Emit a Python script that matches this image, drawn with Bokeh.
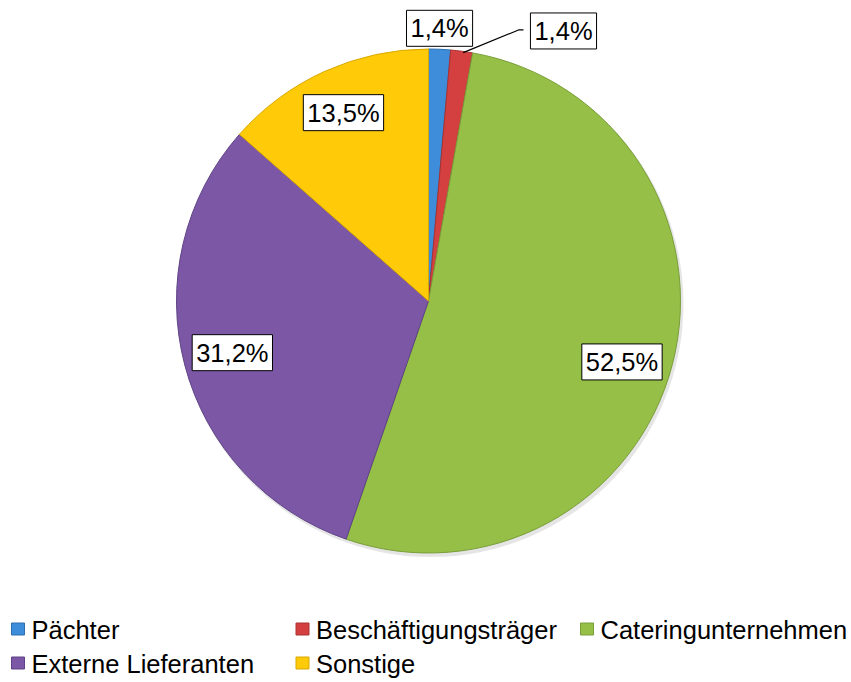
import math
from bokeh.plotting import figure
from bokeh.models import Range1d, Label
from bokeh.core.properties import value
from bokeh.embed import file_html
from bokeh.resources import INLINE

# ---- data ----
categories = ["Pächter", "Beschäftigungsträger", "Cateringunternehmen",
              "Externe Lieferanten", "Sonstige"]
shares = [1.4, 1.4, 52.5, 31.2, 13.5]
share_labels = ["1,4%", "1,4%", "52,5%", "31,2%", "13,5%"]

# ---- styles ----
colors = ["#3D8DDB", "#D4403F", "#95BF47", "#7B57A6", "#FFCA08"]
edges = ["#2F6FAE", "#A83232", "#7A9E3A", "#5F4385", "#D9A800"]
FONT = "Liberation Sans"
FS = "25.5px"

W, H = 851, 682
# page pixel coordinates -> data coordinates
def px(x):
    return x
def py(y):
    return H - y

cx, cy, R = 428, 300.5, 252

p = figure(width=W, height=H, output_backend="svg", toolbar_location=None,
           x_range=Range1d(0, W), y_range=Range1d(0, H),
           min_border=0, outline_line_color=None, background_fill_color="white",
           border_fill_color="white")
p.axis.visible = False
p.grid.visible = False

# soft shadow
p.circle(x=[px(cx + 2)], y=[py(cy + 3)], radius=R + 1, fill_color="#000000",
         fill_alpha=0.10, line_color=None)

total = sum(shares)
cum = 0.0
starts, ends, mids = [], [], []
for s in shares:
    a0 = math.pi / 2 - 2 * math.pi * cum / total
    cum += s
    a1 = math.pi / 2 - 2 * math.pi * cum / total
    starts.append(a0)
    ends.append(a1)
    mids.append((a0 + a1) / 2)

p.wedge(x=px(cx), y=py(cy), radius=R, start_angle=starts, end_angle=ends,
        direction="clock", fill_color=colors, line_color=edges, line_width=1)

# label placement: radius fraction and angle nudge (degrees, clockwise)
label_rf = [1.083, 1.198, 0.805, 0.805, 0.82]
label_nudge = [-0.2, 19.0, 2.9, 0.0, 0.0]
for i, t in enumerate(share_labels):
    ang = mids[i] - math.radians(label_nudge[i])
    lx = cx + R * label_rf[i] * math.cos(ang)
    ly = cy - R * label_rf[i] * math.sin(ang)
    if i == 1:
        # leader line from slice edge to label box
        a_edge = mids[i] - math.radians(0.4)
        ex = cx + R * 0.995 * math.cos(a_edge)
        ey = cy - R * 0.995 * math.sin(a_edge)
        bx = lx - 40
        p.line(x=[px(ex), px(bx - 5), px(bx)], y=[py(ey), py(ly - 1), py(ly - 1)],
               line_color="black", line_width=1.2)
    p.add_layout(Label(x=px(lx), y=py(ly), text=t, text_align="center",
                       text_baseline="middle", text_font=FONT,
                       text_font_size=FS, text_color="black",
                       background_fill_color="white",
                       border_line_color="black", border_line_width=1,
                       padding=4))

# legend (manual, 3 columns)
leg_x0, leg_pitch = 11, 284.5
leg_y = [629, 663]
mk_x, mk_y, tx, ty = [], [], [], []
for i, c in enumerate(categories):
    row, col = divmod(i, 3)
    x0 = leg_x0 + col * leg_pitch
    mk_x.append(px(x0 + 6.5))
    mk_y.append(py(leg_y[row] - 0.5))
    tx.append(px(x0 + 20))
    ty.append(py(leg_y[row]))
p.rect(x=mk_x, y=mk_y, width=13, height=12, width_units="screen",
       height_units="screen", fill_color=colors, line_color=edges)
p.text(x=tx, y=ty, text=categories, text_font=value(FONT),
       text_font_size=FS, text_baseline="middle", text_align="left",
       text_color="black")

open("out.html", "w").write(file_html(p, INLINE))
